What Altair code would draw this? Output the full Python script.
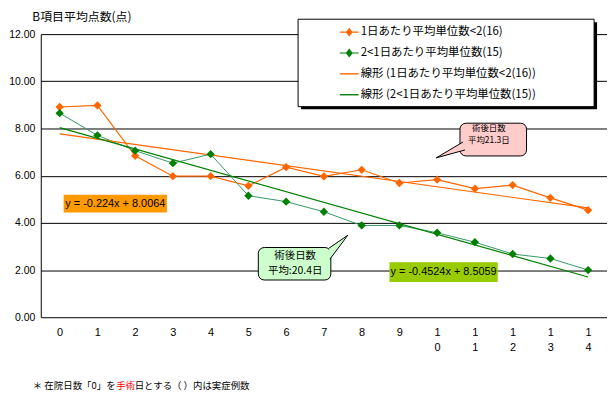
import altair as alt
import pandas as pd

# ---- data ----
days = list(range(15))
series_a = [8.91, 8.98, 6.84, 5.98, 5.98, 5.57, 6.36, 5.97, 6.25, 5.69, 5.83, 5.45, 5.60, 5.06, 4.54]
series_b = [8.65, 7.71, 7.06, 6.53, 6.91, 5.15, 4.90, 4.47, 3.89, 3.89, 3.58, 3.18, 2.68, 2.49, 2.00]
names = [
    "1日あたり平均単位数<2(16)",
    "2<1日あたり平均単位数(15)",
    "線形 (1日あたり平均単位数<2(16))",
    "線形 (2<1日あたり平均単位数(15))",
]
y_ticks = [0, 2, 4, 6, 8, 10, 12]
title_text = "B項目平均点数(点)"
eq_a = "y = -0.224x + 8.0064"
eq_b = "y = -0.4524x + 8.5059"
callout_a = "術後日数\n平均21.3日"
callout_b = "術後日数\n平均:20.4日"
foot_1 = "＊ 在院日数「0」を"
foot_2 = "手術"
foot_3 = "日とする（ ）内は実症例数"

JP = "Noto Sans CJK JP"
NUM = "Liberation Sans"
ORANGE = "#FF6600"
GREEN_LINE = "#339966"
GREEN = "#008000"

df = pd.DataFrame({
    "day": days * 2,
    "value": series_a + series_b,
    "series": [names[0]] * len(days) + [names[1]] * len(days),
})

xs = alt.Scale(domain=[-0.5, 14.5], nice=False, zero=False)
ys = alt.Scale(domain=[0, 12], nice=False, zero=True)
xa = alt.Axis(
    values=days, title=None, grid=False, domain=False, ticks=False,
    labelFlush=False, labelOverlap=False,
    labelExpr="datum.value >= 10 ? ['1', toString(datum.value - 10)] : toString(datum.value)",
    labelFont=NUM, labelFontSize=11, labelColor="black", labelPadding=9,
    labelLineHeight=15, labelBaseline="top",
)
ya = alt.Axis(
    values=y_ticks, format=".2f", grid=True, gridColor="black", gridWidth=1,
    domainColor="black", domainWidth=1, ticks=False, labelPadding=6,
    labelFont=NUM, labelFontSize=10.5, labelColor="black",
    title=title_text, titleAngle=0, titleAlign="left", titleBaseline="middle",
    titleX=-9, titleY=-18, titleFont=JP, titleFontSize=12,
    titleFontWeight="normal", titleColor="black",
)


def X(f):
    return alt.X(f, type="quantitative", scale=xs, axis=xa)


def Y(f):
    return alt.Y(f, type="quantitative", scale=ys, axis=ya)


one = pd.DataFrame({"k": [0]})

# legend frame (shadow + white box)
frame_shadow = alt.Chart(one).mark_rect(color="black").encode(
    x=alt.value(262), x2=alt.value(560), y=alt.value(-12), y2=alt.value(75.5))
frame = alt.Chart(one).mark_rect(fill="white", stroke="black", strokeWidth=1).encode(
    x=alt.value(259), x2=alt.value(557), y=alt.value(-15), y2=alt.value(73))

base = alt.Chart(df)
a = base.transform_filter(alt.datum.series == names[0])
b = base.transform_filter(alt.datum.series == names[1])

line_a = a.mark_line(color=ORANGE, strokeWidth=1.2).encode(x=X("day"), y=Y("value"))
pts_a = a.mark_point(shape="diamond", filled=True, size=70, color=ORANGE, opacity=1).encode(
    x=X("day"), y=Y("value"))
line_b = b.mark_line(color=GREEN_LINE, strokeWidth=1).encode(x=X("day"), y=Y("value"))
pts_b = b.mark_point(shape="diamond", filled=True, size=70, color=GREEN, opacity=1).encode(
    x=X("day"), y=Y("value"))

trend_a = a.transform_regression("day", "value").mark_line(color=ORANGE, strokeWidth=1.2).encode(
    x=X("day"), y=Y("value"))
trend_b = b.transform_regression("day", "value").mark_line(color=GREEN, strokeWidth=1.2).encode(
    x=X("day"), y=Y("value"))

# equation labels
eq_df = pd.DataFrame({
    "x0": [0.105, 8.737], "x1": [2.842, 11.605],
    "y0": [5.196, 2.335], "y1": [4.438, 1.494],
    "cx": [1.474, 10.171], "cy": [4.817, 1.914],
    "label": [eq_a, eq_b], "fill": ["#FF9900", "#99CC00"],
})
eq_box = alt.Chart(eq_df).mark_rect().encode(
    x=X("x0"), x2="x1", y=Y("y0"), y2="y1",
    fill=alt.Fill("fill:N", scale=None))
eq_txt = alt.Chart(eq_df).mark_text(font=NUM, fontSize=11, color="black").encode(
    x=X("cx"), y=Y("cy"), text="label:N")

# callouts
co_df = pd.DataFrame({
    "x0": [10.605, 5.263], "x1": [12.368, 7.184],
    "y0": [8.225, 2.956], "y1": [6.836, 1.578],
    "fill": ["#FFCCCC", "#CCFFCC"],
})
co_box = alt.Chart(co_df).mark_rect(stroke="black", strokeWidth=1, cornerRadius=6).encode(
    x=X("x0"), x2="x1", y=Y("y0"), y2="y1", fill=alt.Fill("fill:N", scale=None))
tip_df = pd.DataFrame({
    "tx": [9.974, 7.632], "ty": [6.753, 3.471],
    "fill": ["#FFCCCC", "#CCFFCC"],
    "path": ["M27,-16L0,0L29,-8", "M-19,13L0,0L-18,24"],
})
co_tip = alt.Chart(tip_df).mark_point(filled=True, size=4, opacity=1, stroke="black",
                                     strokeWidth=1).encode(
    x=X("tx"), y=Y("ty"),
    fill=alt.Fill("fill:N", scale=None),
    shape=alt.Shape("path:N", scale=None))
co_txt_a = alt.Chart(one).mark_text(font=JP, fontSize=8.5, color="black", lineBreak="\n",
                                    lineHeight=12).encode(
    x=alt.X("v:Q", scale=xs, axis=xa), y=alt.Y("w:Q", scale=ys, axis=ya),
    text=alt.value(callout_a)).transform_calculate(v="11.37", w="8.0")
co_txt_b = alt.Chart(one).mark_text(font=JP, fontSize=10.5, color="black", lineBreak="\n",
                                    lineHeight=15).encode(
    x=alt.X("v:Q", scale=xs, axis=xa), y=alt.Y("w:Q", scale=ys, axis=ya),
    text=alt.value(callout_b)).transform_calculate(v="6.24", w="2.575")

# footnote
f1 = alt.Chart(one).mark_text(font=JP, fontSize=9.5, color="black", align="left").encode(
    x=alt.value(-8), y=alt.value(354), text=alt.value(foot_1))
f2 = alt.Chart(one).mark_text(font=JP, fontSize=9.5, color="red", align="left").encode(
    x=alt.value(76), y=alt.value(354), text=alt.value(foot_2))
f3 = alt.Chart(one).mark_text(font=JP, fontSize=9.5, color="black", align="left").encode(
    x=alt.value(94.5), y=alt.value(354), text=alt.value(foot_3))

# legend (library legend, custom symbols)
paths = [
    "M-0.95,-0.065H0.95V0.065H-0.95Z M-0.35,0L0,-0.45L0.35,0L0,0.45Z",
    "M-0.95,-0.055H0.95V0.055H-0.95Z M-0.35,0L0,-0.45L0.35,0L0,0.45Z",
    "M-0.95,-0.07H0.95V0.07H-0.95Z",
    "M-0.95,-0.07H0.95V0.07H-0.95Z",
]
leg = alt.Legend(
    title=None, orient="none", legendX=300.5, legendY=-12, padding=0,
    symbolSize=400, symbolStrokeWidth=0, rowPadding=5, labelOffset=1.5,
    labelFont=JP, labelFontSize=11.5, labelColor="black", labelLimit=400,
)
legend_layer = alt.Chart(pd.DataFrame({"series": names})).mark_point(
    filled=True, opacity=1).encode(
    color=alt.Color("series:N", scale=alt.Scale(domain=names, range=[ORANGE, GREEN, ORANGE, GREEN]),
                    legend=leg),
    shape=alt.Shape("series:N", scale=alt.Scale(domain=names, range=paths), legend=leg),
).transform_filter("false")

chart = alt.layer(
    frame_shadow, frame,
    line_a, line_b, trend_a, trend_b, pts_a, pts_b,
    eq_box, eq_txt, co_box, co_tip, co_txt_a, co_txt_b,
    f1, f2, f3, legend_layer,
).properties(
    width=570, height=285,
    autosize=alt.AutoSizeParams(type="none"),
    padding={"left": 33, "top": 25, "right": 0, "bottom": 80},
    background="white",
).configure_view(stroke=None)

chart.save("out.html", embed_options={"renderer": "svg", "actions": False})
